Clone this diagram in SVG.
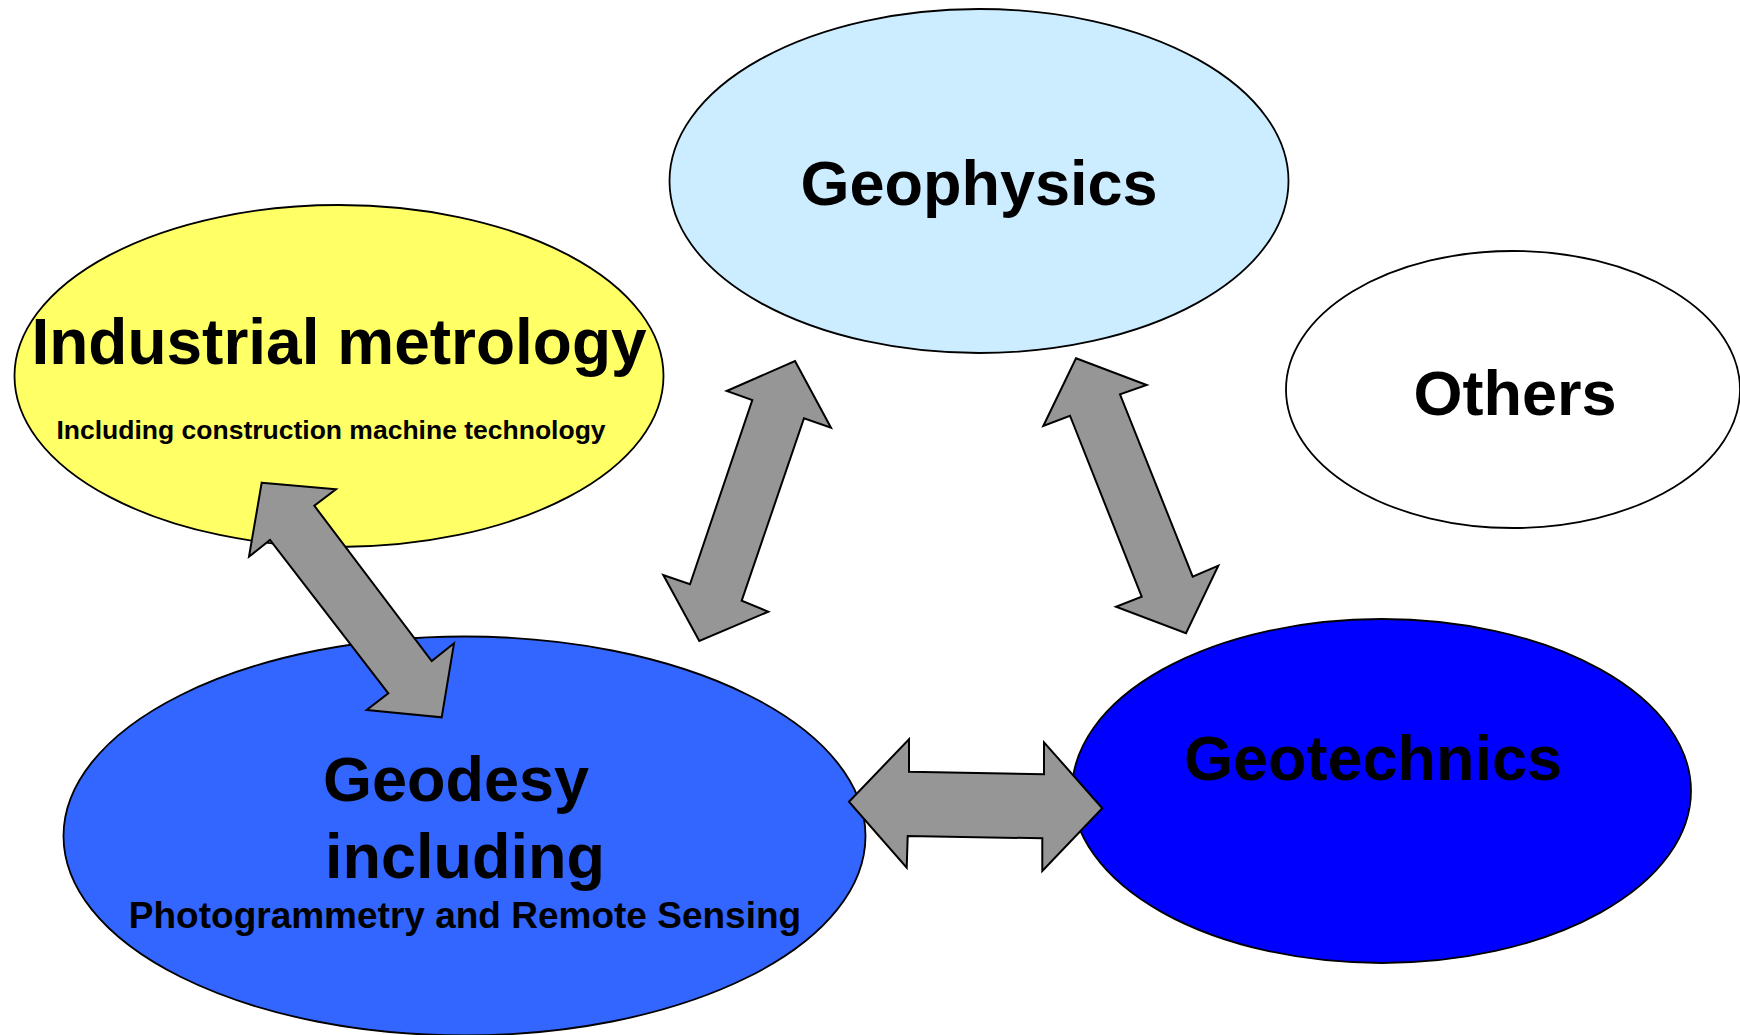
<svg xmlns="http://www.w3.org/2000/svg" width="1740" height="1035" viewBox="0 0 1740 1035">
  <style>
    .node { stroke: #000; stroke-width: 1.8; }
    .lbl { font-family: "Liberation Sans", Arial, sans-serif; font-weight: bold; fill: #000; text-anchor: middle; }
    .big { font-size: 63px; }
    .arrow { fill: #969696; stroke: #000; stroke-width: 2; stroke-linejoin: miter; }
  </style>
  <rect width="1740" height="1035" fill="#fff"/>

  <g id="geophysics">
    <ellipse class="node" cx="979" cy="181" rx="309.5" ry="172" fill="#CCECFF"/>
    <text class="lbl big" x="979" y="205">Geophysics</text>
  </g>

  <g id="industrial-metrology">
    <ellipse class="node" cx="339" cy="376" rx="324.5" ry="171" fill="#FFFF66"/>
    <text class="lbl" x="339" y="364" font-size="64">Industrial metrology</text>
    <text class="lbl" x="331" y="439" font-size="26.5">Including construction machine technology</text>
  </g>

  <g id="others">
    <ellipse class="node" cx="1513" cy="389.5" rx="227" ry="138.5" fill="#fff"/>
    <text class="lbl big" x="1515" y="415">Others</text>
  </g>

  <g id="geotechnics">
    <ellipse class="node" cx="1381.5" cy="791" rx="309.5" ry="172" fill="#0000FF"/>
    <text class="lbl big" x="1373" y="780">Geotechnics</text>
  </g>

  <g id="geodesy">
    <ellipse class="node" cx="464.5" cy="836" rx="401" ry="199.5" fill="#3366FF"/>
    <text class="lbl big" x="456" y="801">Geodesy</text>
    <text class="lbl big" x="465" y="878">including</text>
    <text class="lbl" x="465" y="928" font-size="37">Photogrammetry and Remote Sensing</text>
  </g>

  <g id="connectors">
    <!-- industrial metrology <-> geodesy -->
    <polygon class="arrow" points="261.7,482.7 336,489.3 314.3,505.7 431.7,661 454,643.3 441.7,717.3 366.7,710 388.3,693.3 270,540 249,556.7"/>
    <!-- geophysics <-> geodesy -->
    <polygon class="arrow" points="795,361 831,427.7 804,418.3 741.7,600.7 768.3,611.7 699.3,641 663.3,575 690,584.3 752.3,400 726.7,391"/>
    <!-- geophysics <-> geotechnics -->
    <polygon class="arrow" points="1076,358.3 1146.7,385 1120,394.3 1192.7,576.7 1218.3,565.7 1186,633.3 1116,606.7 1141.7,596.7 1070,415.7 1043.3,426"/>
    <!-- geodesy <-> geotechnics -->
    <polygon class="arrow" points="849,801.7 909,739.3 909,771.7 1044,774.3 1044,742.3 1102.3,808.3 1042.3,871 1042.3,838.3 907.7,836 906.7,867.7"/>
  </g>
</svg>
